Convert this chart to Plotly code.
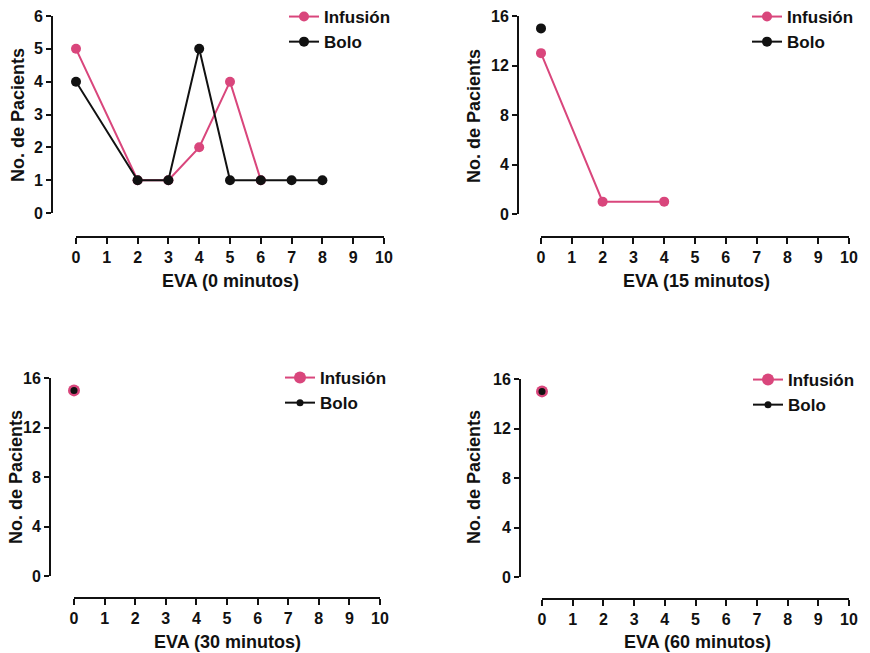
import plotly.graph_objects as go

# ---------------- data ----------------
series_names = ["Infusión", "Bolo"]
x_ticks = [0, 1, 2, 3, 4, 5, 6, 7, 8, 9, 10]
x_titles = ["EVA (0 minutos)", "EVA (15 minutos)", "EVA (30 minutos)", "EVA (60 minutos)"]
y_title = "No. de Pacients"

p1_inf_x = [0, 2, 3, 4, 5, 6]
p1_inf_y = [5, 1, 1, 2, 4, 1]
p1_bol_x = [0, 2, 3, 4, 5, 6, 7, 8]
p1_bol_y = [4, 1, 1, 5, 1, 1, 1, 1]

p2_inf_x = [0, 2, 4]
p2_inf_y = [13, 1, 1]
p2_bol_x = [0]
p2_bol_y = [15]

p3_inf_x = [0]
p3_inf_y = [15]
p3_bol_x = [0]
p3_bol_y = [15]

p4_inf_x = [0]
p4_inf_y = [15]
p4_bol_x = [0]
p4_bol_y = [15]

y_max = [6, 16, 16, 16]
y_dtick = [1, 4, 4, 4]

# ---------------- styling / geometry (pixels) ----------------
W, H = 870, 653
PINK = "#d9467c"
BLACK = "#111111"
FONT = "Liberation Sans, Arial, sans-serif"

panels = [
    dict(x0=76, x1=384, ybot=213, ytop=16, yline=52, xline=237,
         xt=(231, 281), yt=(18, 115), leg=(326, 13)),
    dict(x0=541, x1=849, ybot=214, ytop=16, yline=518, xline=237,
         xt=(696, 281), yt=(474, 116), leg=(789, 13)),
    dict(x0=74, x1=380, ybot=576, ytop=378, yline=50, xline=598,
         xt=(227, 642), yt=(16, 477), leg=(322, 374)),
    dict(x0=542, x1=849, ybot=577, ytop=379, yline=520, xline=599,
         xt=(697, 642), yt=(474, 477), leg=(790, 376)),
]

data = [
    (p1_inf_x, p1_inf_y, p1_bol_x, p1_bol_y),
    (p2_inf_x, p2_inf_y, p2_bol_x, p2_bol_y),
    (p3_inf_x, p3_inf_y, p3_bol_x, p3_bol_y),
    (p4_inf_x, p4_inf_y, p4_bol_x, p4_bol_y),
]
marker_sizes = [(10, 10), (10, 10), (12, 7), (12, 7)]

fig = go.Figure()
layout = dict(
    template="none",
    width=W, height=H,
    margin=dict(l=0, r=0, t=0, b=0, autoexpand=False),
    paper_bgcolor="white", plot_bgcolor="white",
    font=dict(family=FONT, size=16, color=BLACK, weight="bold"),
    showlegend=True,
)
annotations = []

for i, (p, d, ms) in enumerate(zip(panels, data, marker_sizes)):
    n = i + 1
    sfx = "" if n == 1 else str(n)
    legname = "legend" if n == 1 else f"legend{n}"
    ix, iy, bx, by = d
    fig.add_trace(go.Scatter(
        x=ix, y=iy, name=series_names[0], mode="lines+markers",
        xaxis="x" + sfx, yaxis="y" + sfx, legend=legname, cliponaxis=False,
        line=dict(color=PINK, width=2), marker=dict(color=PINK, size=ms[0])))
    fig.add_trace(go.Scatter(
        x=bx, y=by, name=series_names[1], mode="lines+markers",
        xaxis="x" + sfx, yaxis="y" + sfx, legend=legname, cliponaxis=False,
        line=dict(color=BLACK, width=2), marker=dict(color=BLACK, size=ms[1])))

    layout["xaxis" + sfx] = dict(
        domain=[p["x0"] / W, p["x1"] / W], range=[0, 10],
        anchor="free", position=1 - p["xline"] / H, automargin=False,
        tickvals=x_ticks, showline=True, linewidth=2, linecolor=BLACK,
        ticks="outside", ticklen=6, tickwidth=2, tickcolor=BLACK,
        showgrid=False, zeroline=False, tickfont=dict(size=16),
    )
    layout["yaxis" + sfx] = dict(
        domain=[1 - p["ybot"] / H, 1 - p["ytop"] / H], range=[0, y_max[i]],
        anchor="free", position=p["yline"] / W, automargin=False,
        dtick=y_dtick[i], tick0=0, showline=True, linewidth=2, linecolor=BLACK,
        ticks="outside", ticklen=5, tickwidth=2, tickcolor=BLACK,
        showgrid=False, zeroline=False, tickfont=dict(size=16),
    )
    layout[legname] = dict(
        x=(p["leg"][0] - 42) / W, y=1 - (p["leg"][1] - 14) / H,
        xanchor="left", yanchor="top", bgcolor="rgba(0,0,0,0)",
        font=dict(size=17, family=FONT, weight="bold"),
        tracegroupgap=0,
    )
    annotations.append(dict(
        text=x_titles[i], x=p["xt"][0] / W, y=1 - p["xt"][1] / H,
        xref="paper", yref="paper", showarrow=False,
        xanchor="center", yanchor="middle",
        font=dict(size=18, family=FONT, weight="bold")))
    annotations.append(dict(
        text=y_title, x=p["yt"][0] / W, y=1 - p["yt"][1] / H,
        xref="paper", yref="paper", showarrow=False, textangle=-90,
        xanchor="center", yanchor="middle",
        font=dict(size=18, family=FONT, weight="bold")))

layout["annotations"] = annotations
fig.update_layout(**layout)
fig.write_html(
    "out.html",
    config={"displayModeBar": False},
    post_script="document.body.style.margin='0';document.body.style.overflow='hidden';",
)
